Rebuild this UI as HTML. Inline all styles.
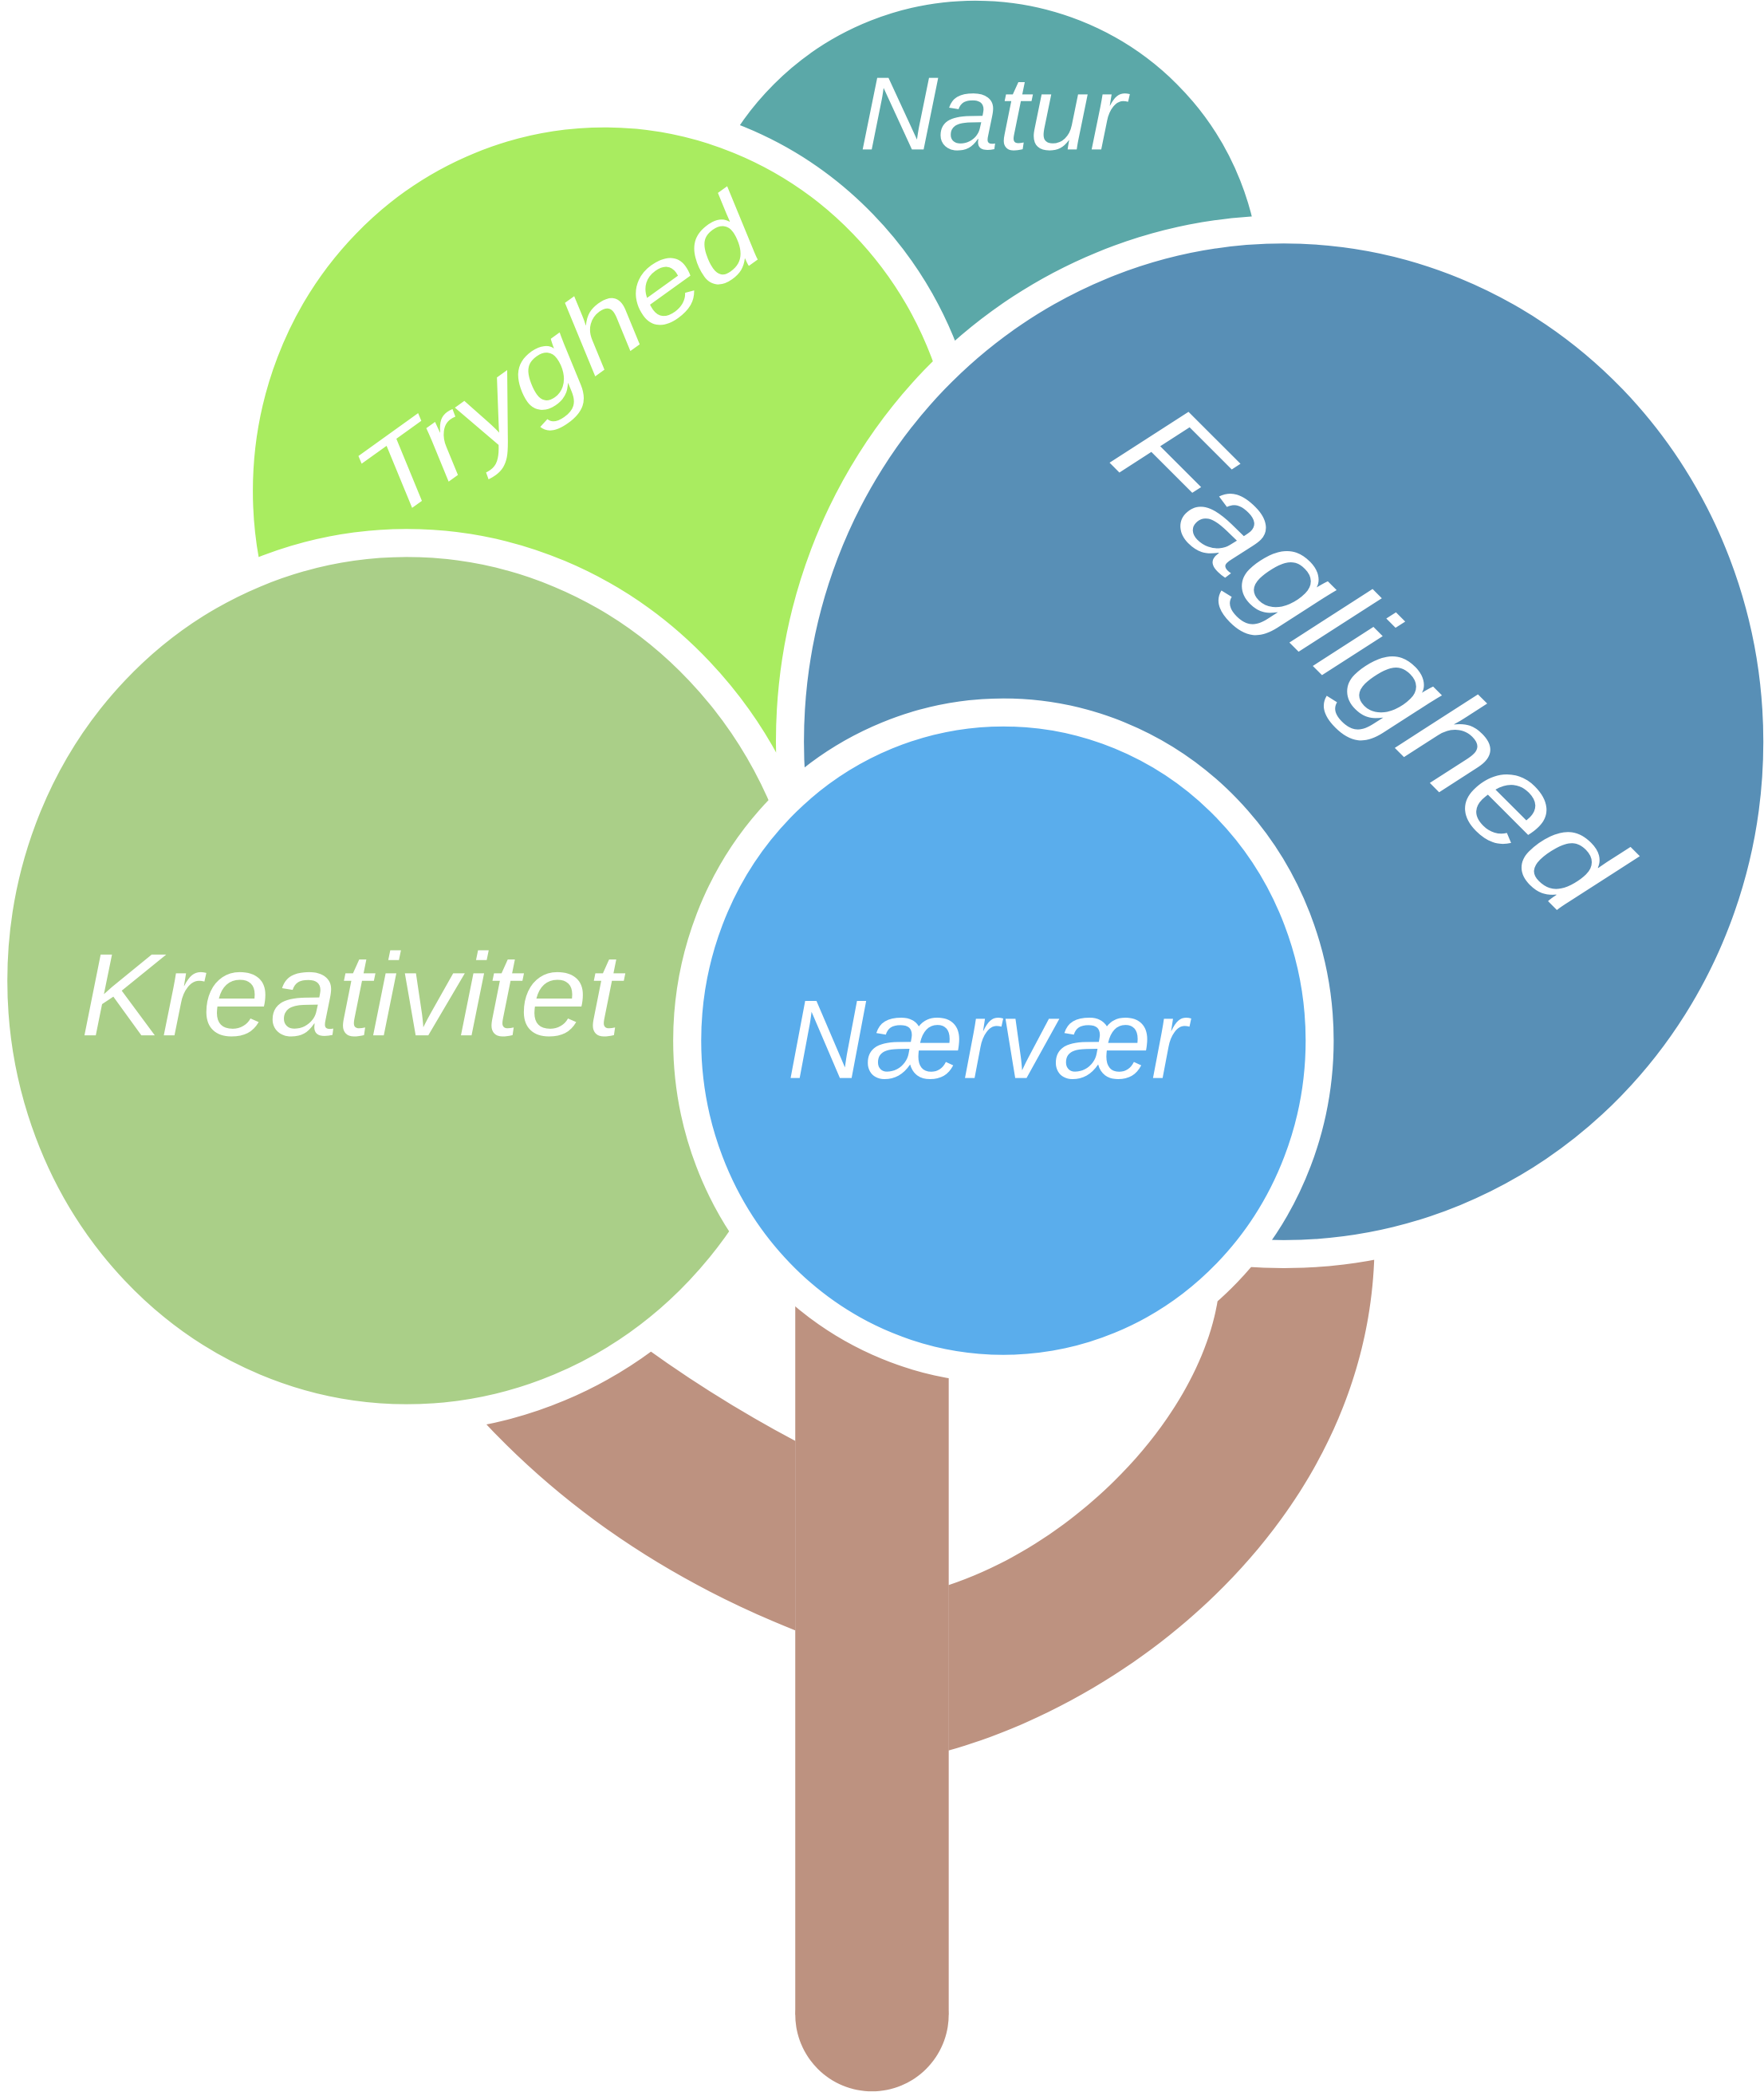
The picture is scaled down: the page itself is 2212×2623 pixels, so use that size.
<!DOCTYPE html>
<html><head><meta charset="utf-8"><style>
html,body{margin:0;padding:0;background:#fff;}
svg{display:block;}
text{font-family:"Liberation Sans",sans-serif;fill:#fff;font-weight:normal;}
</style></head><body>
<svg width="2212" height="2623" viewBox="0 0 1322 1568" preserveAspectRatio="none" xmlns="http://www.w3.org/2000/svg">
<rect width="1322" height="1568" fill="#fff"/>
<g fill="#BD9280">
<rect x="596" y="940" width="115" height="570"/>
<circle cx="653.5" cy="1510" r="57.5"/>
<path d="M340 1040 Q440 1160 596 1222 L596 1080 Q530 1045 470 1000 Z"/>
<path d="M711 1188 C810 1155 900 1060 913 972 L913 880 L1030 880 L1030 940 C1025 1130 860 1270 711 1312 Z"/>
</g>
<g stroke="#fff" stroke-width="21">
<circle cx="731" cy="214" r="224" fill="#5BA8A8"/>
<ellipse cx="453" cy="368" rx="274" ry="283" fill="#A9EC60"/>
<ellipse cx="305" cy="735" rx="310" ry="328" fill="#AACF88"/>
<ellipse cx="962" cy="556" rx="370" ry="384" fill="#588FB6"/>
<ellipse cx="752" cy="780" rx="237" ry="246" fill="#5AADEC"/>
</g>
<text x="744" y="112" font-size="78" text-anchor="middle" textLength="200" lengthAdjust="spacingAndGlyphs" font-style="italic">Natur</text>
<text transform="translate(420,270) rotate(-35.7)" x="0" y="25" font-size="80" text-anchor="middle" textLength="350" lengthAdjust="spacingAndGlyphs" font-style="italic">Tryghed</text>
<text transform="translate(1025,495) rotate(45)" x="0" y="32" font-size="100" text-anchor="middle" textLength="490" lengthAdjust="spacingAndGlyphs" font-style="italic">Faglighed</text>
<text x="263" y="776" font-size="88" text-anchor="middle" textLength="405" lengthAdjust="spacingAndGlyphs" font-style="italic">Kreativitet</text>
<text x="740" y="808" font-size="84" text-anchor="middle" textLength="300" lengthAdjust="spacingAndGlyphs" font-style="italic">Nærvær</text>
</svg>
</body></html>
